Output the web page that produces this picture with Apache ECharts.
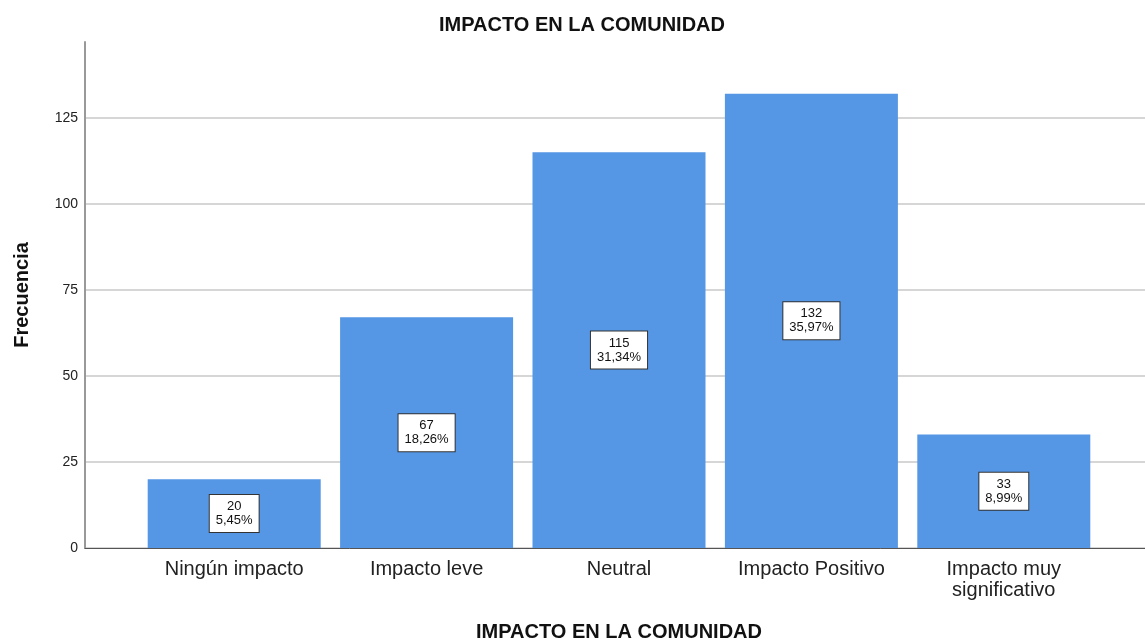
<!DOCTYPE html>
<html>
<head>
<meta charset="utf-8">
<script src="https://cdn.jsdelivr.net/npm/echarts@6/dist/echarts.min.js"></script>
<style>
  html, body { margin: 0; padding: 0; background: #fff; }
  #chart { width: 1145px; height: 642px; }
</style>
</head>
<body>
<div id="chart"></div>
<script>
var categories = ["Ningún impacto", "Impacto leve", "Neutral", "Impacto Positivo", "Impacto muy\nsignificativo"];
var counts = [20, 67, 115, 132, 33];
var percents = ["5,45%", "18,26%", "31,34%", "35,97%", "8,99%"];
var yMax = 147;

var chart = echarts.init(document.getElementById("chart"));
var font = "Liberation Sans, Arial, sans-serif";
var gridColor = "#c8c8c8";

var option = {
  animation: false,
  textStyle: { fontFamily: font },
  title: {
    text: "IMPACTO EN LA COMUNIDAD",
    left: 577,
    textAlign: "center",
    top: 10,
    textStyle: { fontSize: 20, fontWeight: "bold", color: "#111", fontFamily: font }
  },
  grid: [
    { left: 85, right: 0, top: 42, bottom: 94, outerBoundsMode: "none", containLabel: false },
    { left: 138, right: 45, top: 42, bottom: 94, outerBoundsMode: "none", containLabel: false }
  ],
  xAxis: [
    {
      gridIndex: 0, type: "value", min: 0, max: 1,
      axisLine: { show: true, lineStyle: { color: "#555", width: 1 } },
      axisTick: { show: false }, axisLabel: { show: false }, splitLine: { show: false }
    },
    {
      gridIndex: 1, type: "category", data: categories,
      axisLine: { show: false }, axisTick: { show: false },
      axisLabel: { fontSize: 20, color: "#222", margin: 11, lineHeight: 21, interval: 0, fontFamily: font },
      name: "IMPACTO EN LA COMUNIDAD", nameLocation: "middle", nameGap: 74,
      nameTextStyle: { fontSize: 20, fontWeight: "bold", color: "#111", fontFamily: font }
    }
  ],
  yAxis: [
    {
      gridIndex: 0, type: "value", min: 0, max: yMax, interval: 25,
      axisLine: { show: true, lineStyle: { color: "#999", width: 2 } },
      axisTick: { show: false },
      axisLabel: { fontSize: 14, color: "#222", margin: 7, showMaxLabel: false, fontFamily: font },
      splitLine: {
        show: true,
        lineStyle: {
          color: [gridColor, gridColor, gridColor, gridColor, gridColor, gridColor, "rgba(0,0,0,0)"],
          width: 1.5
        }
      },
      name: "Frecuencia", nameLocation: "middle", nameGap: 53, nameRotate: 90,
      nameTextStyle: { fontSize: 20, fontWeight: "bold", color: "#111", fontFamily: font }
    },
    {
      gridIndex: 1, type: "value", min: 0, max: yMax,
      show: false, splitLine: { show: false }
    }
  ],
  series: [
    {
      type: "bar",
      xAxisIndex: 1, yAxisIndex: 1,
      data: counts,
      barWidth: 173,
      itemStyle: { color: "#5596E5" },
      label: {
        show: true,
        position: "inside",
        formatter: function (p) { return counts[p.dataIndex] + "\n" + percents[p.dataIndex]; },
        fontSize: 13,
        lineHeight: 14,
        color: "#111",
        backgroundColor: "#fff",
        borderColor: "#333",
        borderWidth: 1,
        padding: [5, 6, 4, 6],
        fontFamily: font
      }
    }
  ]
};
chart.setOption(option);
</script>
</body>
</html>
